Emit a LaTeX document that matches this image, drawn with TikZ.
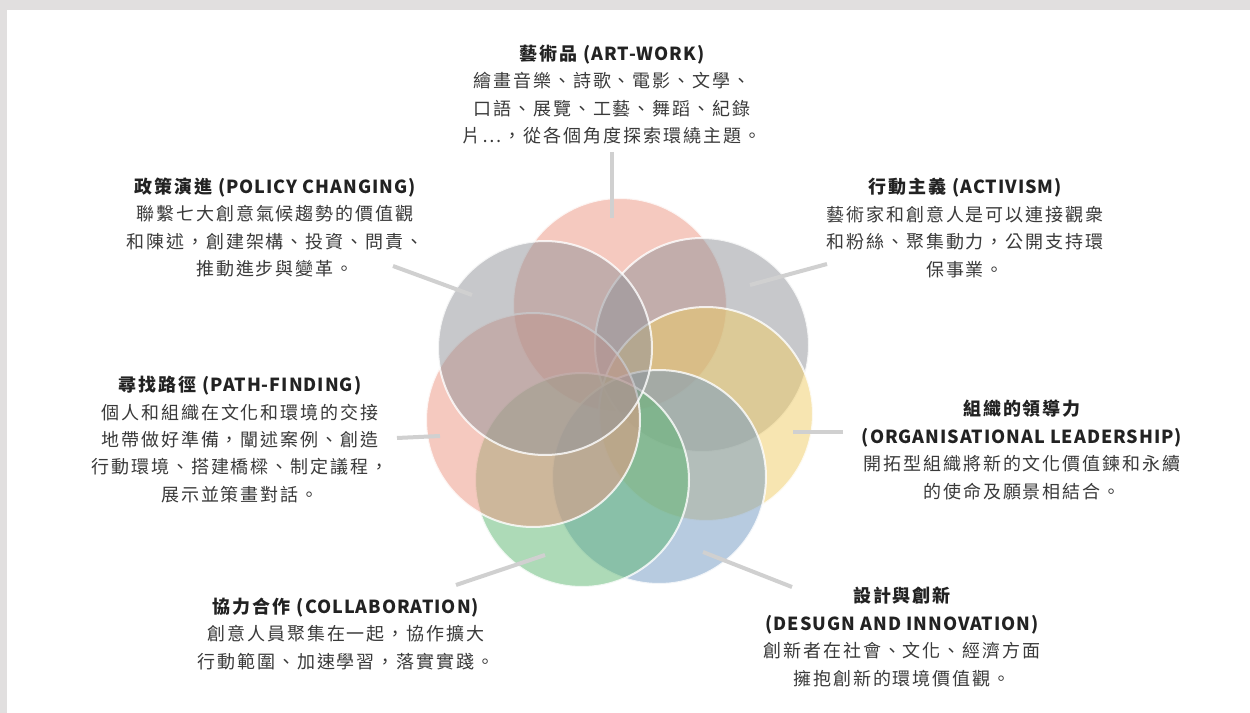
\documentclass[tikz,border=0pt]{standalone}
\usepackage{fontspec}
\setmainfont[LetterSpace=11]{Noto Sans CJK TC}
\newfontfamily\latb[LetterSpace=5.5]{Noto Sans CJK TC}
\definecolor{bordercol}{HTML}{E1DFDF}
\definecolor{salmon}{HTML}{ED9581}
\definecolor{grayc}{HTML}{919399}
\definecolor{yellowc}{HTML}{F1CD65}
\definecolor{bluec}{HTML}{7199C3}
\definecolor{greenc}{HTML}{5DB771}
\definecolor{txtcol}{HTML}{3A3A3A}
\definecolor{titlecol}{HTML}{222222}
\definecolor{conncol}{HTML}{D0D0D0}
\newcommand{\ttl}[2]{\textcolor{titlecol}{\bfseries #1{\latb\bfseries #2}}}
\begin{document}
\begin{tikzpicture}[x=0.75pt,y=-0.75pt,
  txt/.style={align=center, text=txtcol, font=\fontsize{13.5pt}{20.6pt}\selectfont, inner sep=0pt},
  conn/.style={draw=conncol, line width=3pt},
  petal/.style={circle, minimum size=160.5pt, inner sep=0pt, fill opacity=0.5, draw=white, draw opacity=0.8, line width=1.5pt}]
\useasboundingbox (0,0) rectangle (1250,713);
\fill[bordercol] (0,0) rectangle (1250,713);
\fill[white] (7,10) rectangle (1250,713);
% petals
\node[petal, fill=salmon]  (cart)    at (620,305) {};
\node[petal, fill=grayc]   (cact)    at (702,345) {};
\node[petal, fill=yellowc] (corg)    at (706,414) {};
\node[petal, fill=bluec]   (cdes)    at (659,477) {};
\node[petal, fill=greenc]  (ccol)    at (582,480) {};
\node[petal, fill=salmon]  (cpath)   at (533,420) {};
\node[petal, fill=grayc]   (cpol)    at (545,348) {};
% connector ends
\coordinate (art1) at (612,152); \coordinate (art2) at (612,218);
\coordinate (pol1) at (393,266); \coordinate (pol2) at (472,295);
\coordinate (act1) at (827,264); \coordinate (act2) at (750,285);
\coordinate (org1) at (843,432); \coordinate (org2) at (793,432);
\coordinate (des1) at (792,587); \coordinate (des2) at (703,552);
\coordinate (col1) at (456,585); \coordinate (col2) at (545,555);
\coordinate (pth1) at (397,438); \coordinate (pth2) at (440,436);
\draw[conn] (art1) -- (art2);
\draw[conn] (pol1) -- (pol2);
\draw[conn] (act1) -- (act2);
\draw[conn] (org1) -- (org2);
\draw[conn] (des1) -- (des2);
\draw[conn] (col1) -- (col2);
\draw[conn] (pth1) -- (pth2);
% labels
\node[txt] (tart) at (612,94.5) {\ttl{藝術品 }{(ART-WORK)}\\繪畫音樂、詩歌、電影、文學、\\口語、展覽、工藝、舞蹈、紀錄\\片…，從各個角度探索環繞主題。};
\node[txt] (tpol) at (275,227.5) {\ttl{政策演進 }{(POLICY CHANGING)}\\聯繫七大創意氣候趨勢的價值觀\\和陳述，創建架構、投資、問責、\\推動進步與變革。};
\node[txt] (tact) at (965,228) {\ttl{行動主義 }{(ACTIVISM)}\\藝術家和創意人是可以連接觀衆\\和粉絲、聚集動力，公開支持環\\保事業。};
\node[txt] (tpth) at (240,439.5) {\ttl{尋找路徑 }{(PATH-FINDING)}\\個人和組織在文化和環境的交接\\地帶做好準備，闡述案例、創造\\行動環境、搭建橋樑、制定議程，\\展示並策畫對話。};
\node[txt] (torg) at (1022,450) {\ttl{組織的領導力}{}\\\ttl{}{(ORGANISATIONAL LEADERSHIP)}\\開拓型組織將新的文化價值鍊和永續\\的使命及願景相結合。};
\node[txt] (tdes) at (902,637) {\ttl{設計與創新}{}\\\ttl{}{(DESUGN AND INNOVATION)}\\創新者在社會、文化、經濟方面\\擁抱創新的環境價值觀。};
\node[txt] (tcol) at (346,634) {\ttl{協力合作 }{(COLLABORATION)}\\創意人員聚集在一起，協作擴大\\行動範圍、加速學習，落實實踐。};
\end{tikzpicture}
\end{document}
